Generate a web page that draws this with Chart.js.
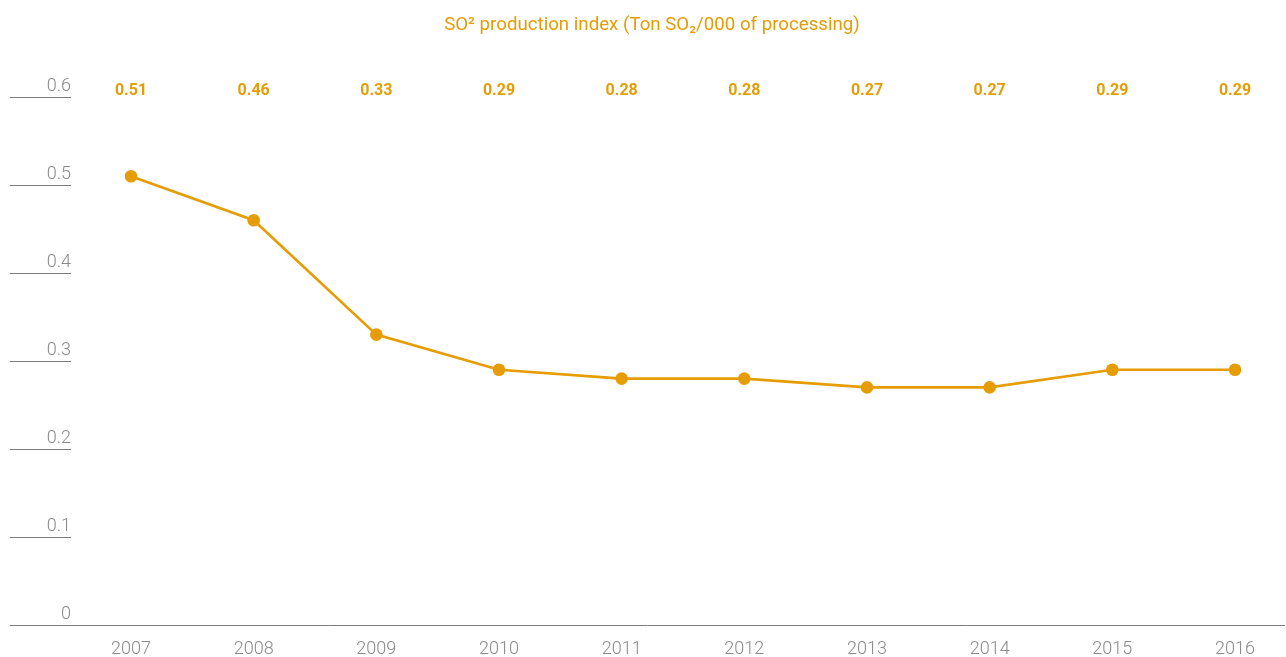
<!DOCTYPE html>
<html>
<head>
<meta charset="utf-8">
<script src="https://cdn.jsdelivr.net/npm/chart.js@4.4.1/dist/chart.umd.min.js"></script>
<style>
  html, body { margin: 0; padding: 0; background: #ffffff; overflow: hidden; }
  canvas { display: block; }
</style>
</head>
<body>
<canvas id="chart" width="1286" height="657"></canvas>
<script>
// Yearly SO2 production index
const years = ['2007', '2008', '2009', '2010', '2011', '2012', '2013', '2014', '2015', '2016'];
const so2Index = [0.51, 0.46, 0.33, 0.29, 0.28, 0.28, 0.27, 0.27, 0.29, 0.29];
const yTicks = [0, 0.1, 0.2, 0.3, 0.4, 0.5, 0.6];
const titleText = 'SO\u00B2 production index (Ton SO\u2082/000 of processing)';

const ORANGE = '#E69C05';
const GREY_TEXT = '#8a8a8a';
const GREY_LINE = '#7a7a7a';
const LIGHT_FONT = 'Roboto, "Liberation Sans", sans-serif';

// Title, value row, short tick rules and the baseline
const decorations = {
  id: 'decorations',
  afterDraw(chart) {
    const ctx = chart.ctx;
    const x = chart.scales.x;
    const y = chart.scales.y;
    ctx.save();

    // title
    ctx.fillStyle = ORANGE;
    ctx.font = '400 18.7px ' + LIGHT_FONT;
    ctx.textAlign = 'center';
    ctx.textBaseline = 'middle';
    ctx.fillText(titleText, 652, 25);

    // value row above the plot
    ctx.font = '700 16px ' + LIGHT_FONT;
    so2Index.forEach((v, i) => {
      ctx.fillText(v.toFixed(2), x.getPixelForValue(i), 91);
    });

    // short rules under each y tick label, full-width baseline at zero
    ctx.strokeStyle = GREY_LINE;
    ctx.lineWidth = 1;
    yTicks.forEach(t => {
      const py = Math.round(y.getPixelForValue(t)) + 0.5;
      ctx.beginPath();
      ctx.moveTo(10, py);
      ctx.lineTo(t === 0 ? chart.width - 1 : 71, py);
      ctx.stroke();
    });
    ctx.restore();
  }
};

new Chart(document.getElementById('chart'), {
  type: 'line',
  data: {
    labels: years,
    datasets: [{
      data: so2Index,
      borderColor: ORANGE,
      backgroundColor: ORANGE,
      borderWidth: 2.6,
      pointRadius: 6.3,
      pointHoverRadius: 6.3,
      pointBackgroundColor: ORANGE,
      pointBorderWidth: 0,
      tension: 0,
      fill: false
    }]
  },
  options: {
    responsive: false,
    animation: false,
    layout: { padding: { top: 97, right: 51, left: 0, bottom: 0 } },
    plugins: {
      legend: { display: false },
      title: { display: false },
      tooltip: { enabled: false }
    },
    scales: {
      x: {
        type: 'category',
        offset: false,
        border: { display: false },
        grid: { display: false, drawTicks: false },
        ticks: {
          color: GREY_TEXT,
          font: { family: LIGHT_FONT, size: 18, weight: '300' },
          padding: 14,
          maxRotation: 0,
          autoSkip: false
        },
        afterFit(scale) { scale.height = 32; }
      },
      y: {
        min: 0,
        max: 0.6,
        afterBuildTicks(scale) { scale.ticks = yTicks.map(v => ({ value: v })); },
        border: { display: false },
        grid: { display: false, drawTicks: false },
        ticks: {
          color: GREY_TEXT,
          font: { family: LIGHT_FONT, size: 18, weight: '300' },
          padding: 60,
          labelOffset: -11,
          callback: v => String(Math.round(v * 10) / 10)
        },
        afterFit(scale) {
          scale.width = 131;
          scale.paddingTop = 0;
          scale.paddingBottom = 0;
        }
      }
    }
  },
  plugins: [decorations]
});
</script>
</body>
</html>
